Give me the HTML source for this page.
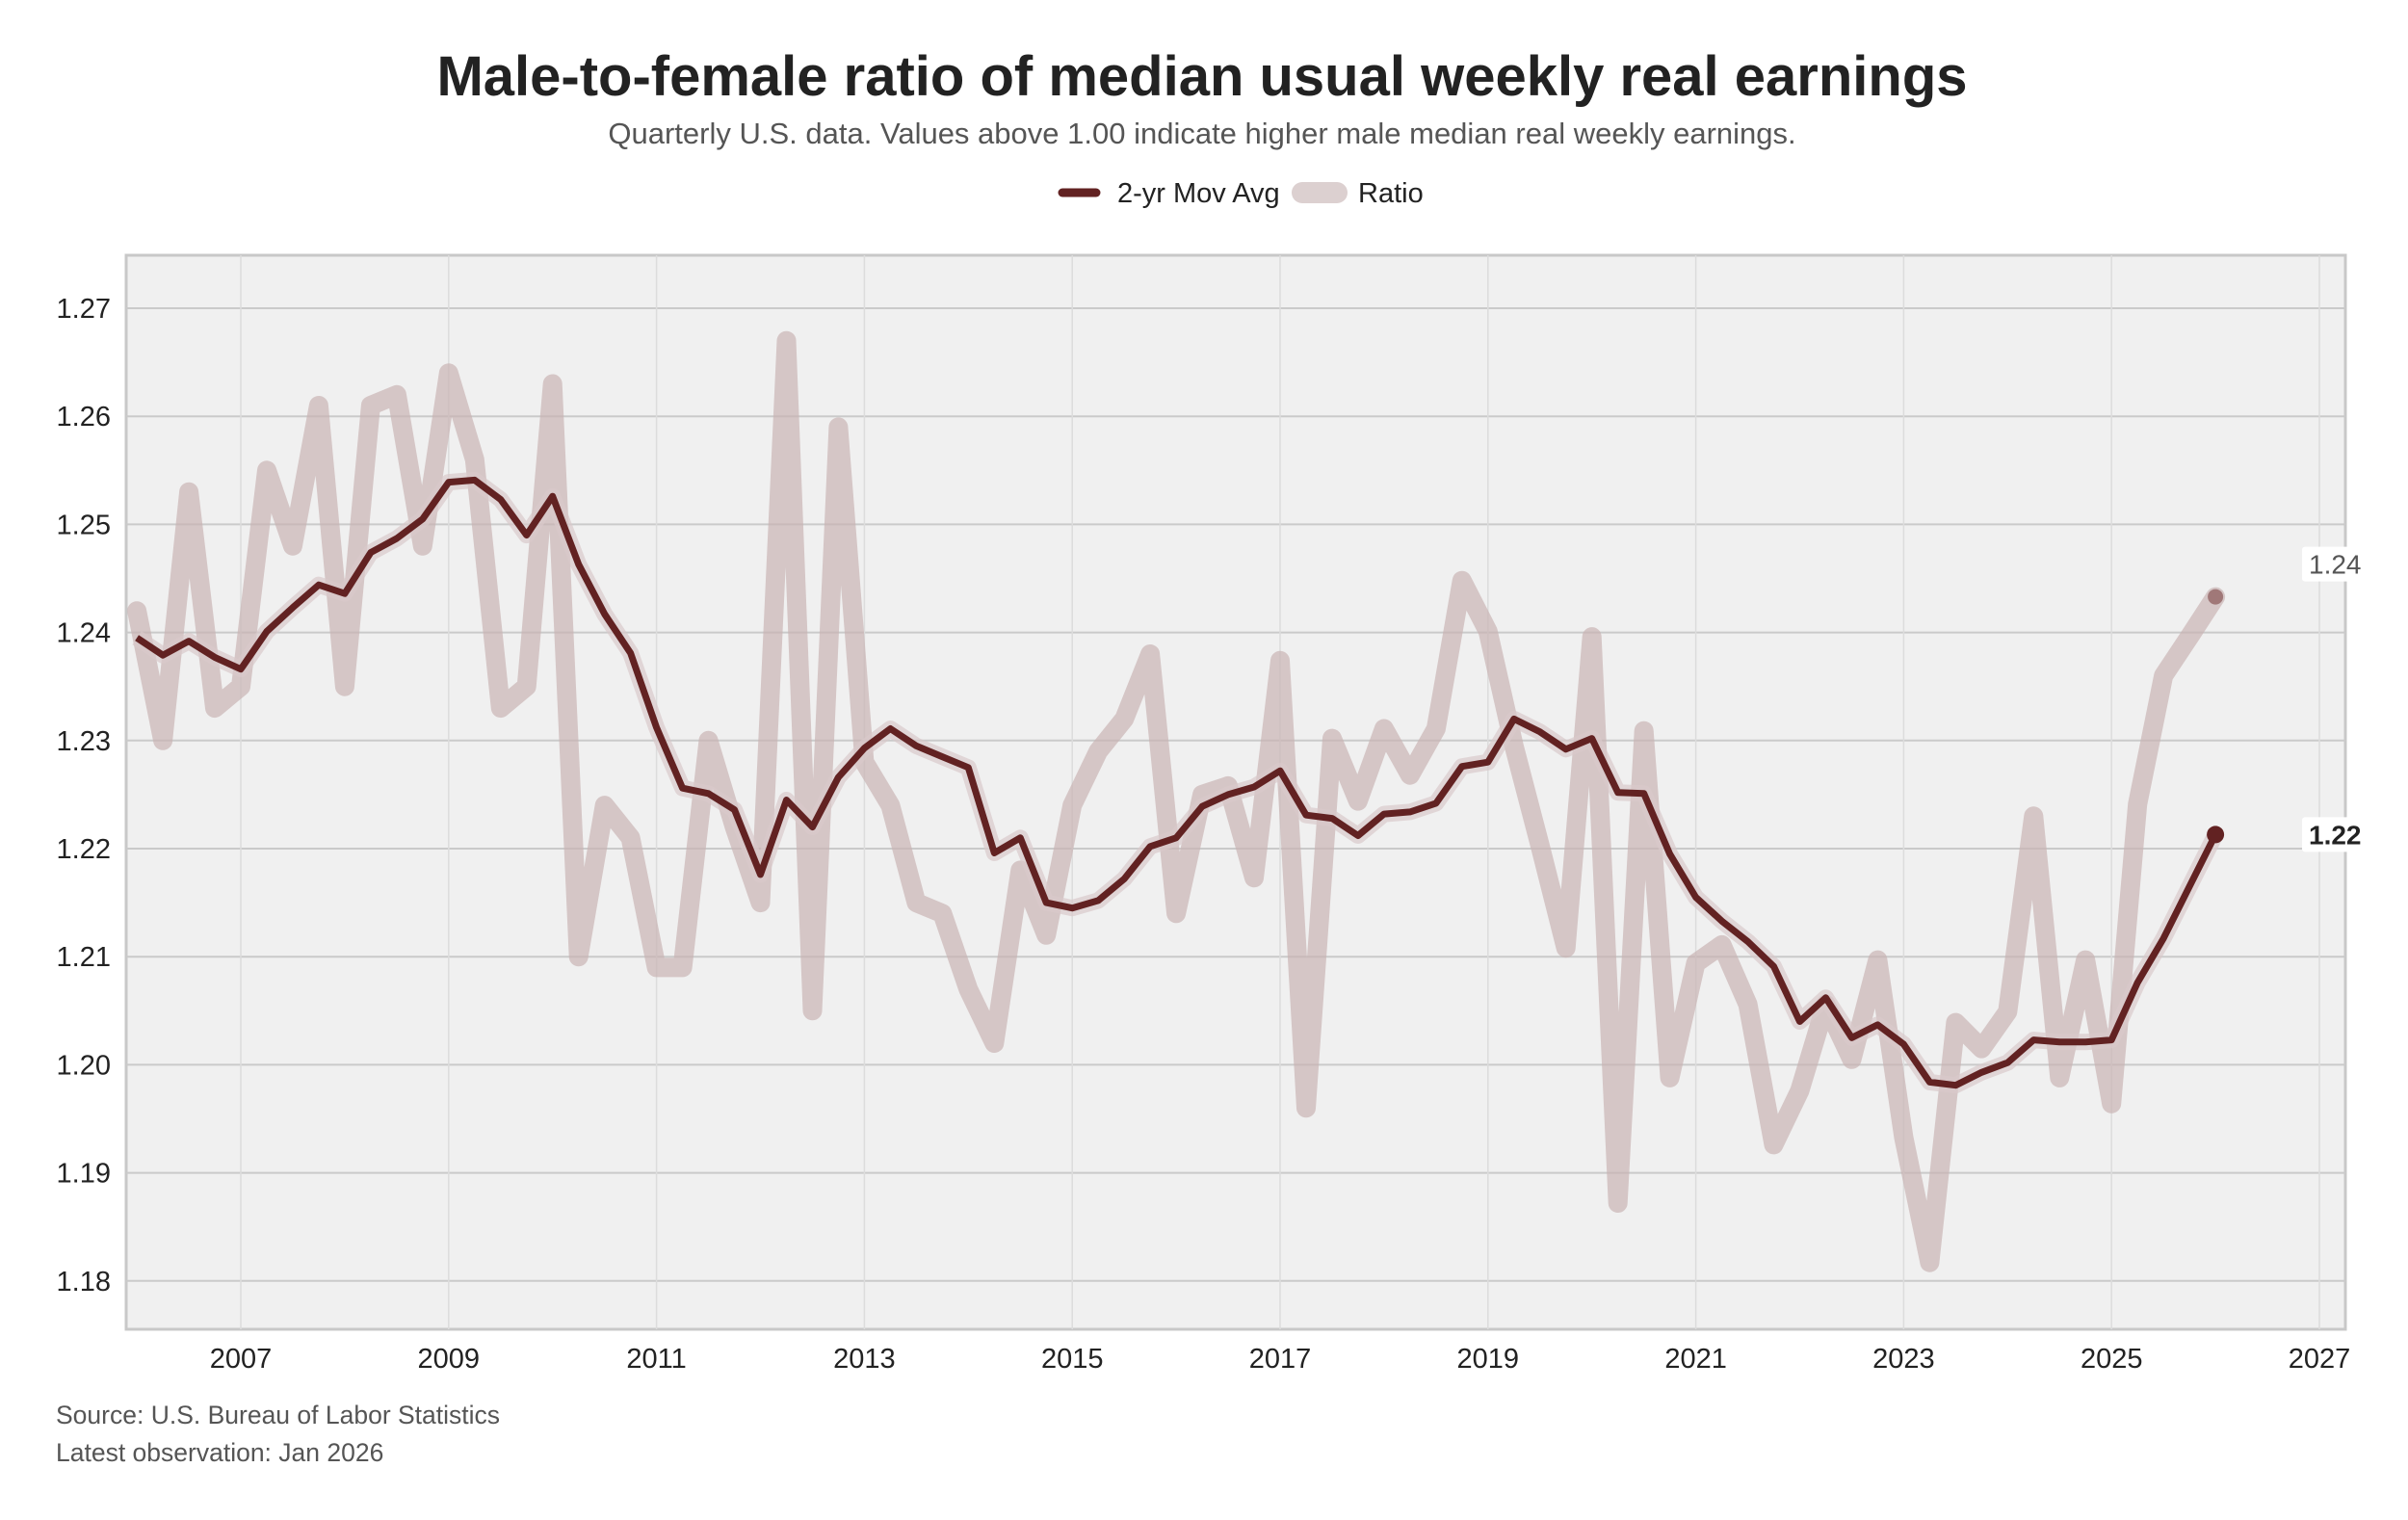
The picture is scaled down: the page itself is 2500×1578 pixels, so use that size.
<!DOCTYPE html>
<html><head><meta charset="utf-8"><style>
html,body{margin:0;padding:0;background:#fff;}
body{width:2500px;height:1573px;overflow:hidden;font-family:"Liberation Sans",Arial,sans-serif;}
</style></head><body>
<svg id="chart" width="2500" height="1573" xmlns="http://www.w3.org/2000/svg" font-family="Liberation Sans, Arial, sans-serif">
<text x="1248" y="99" text-anchor="middle" font-size="58" font-weight="bold" fill="#222">Male-to-female ratio of median usual weekly real earnings</text>
<text x="1248" y="149" text-anchor="middle" font-size="31" fill="#555">Quarterly U.S. data. Values above 1.00 indicate higher male median real weekly earnings.</text>
<g>
<line x1="1103" y1="200" x2="1138" y2="200" stroke="#622222" stroke-width="9" stroke-linecap="round"/>
<text x="1160" y="210" font-size="29" fill="#222">2-yr Mov Avg</text>
<line x1="1352" y1="200" x2="1388" y2="200" stroke="#dcd0d0" stroke-width="22" stroke-linecap="round"/>
<text x="1410" y="210" font-size="29" fill="#222">Ratio</text>
</g>
<rect x="131" y="265" width="2304" height="1115" fill="#f0f0f0" stroke="#c8c8c8" stroke-width="3"/>
<g id="grid"></g><g id="series"></g><g id="axes"></g>
<text x="58" y="1478" font-size="26.5" fill="#555">Source: U.S. Bureau of Labor Statistics</text>
<text x="58" y="1517" font-size="26.5" fill="#555">Latest observation: Jan 2026</text>
</svg>
<script>
const ratio=[1.242,1.230,1.253,1.233,1.235,1.255,1.248,1.261,1.235,1.261,1.262,1.248,1.264,1.256,1.233,1.235,1.263,1.210,1.224,1.221,1.209,1.209,1.230,1.222,1.215,1.267,1.205,1.259,1.228,1.224,1.215,1.214,1.207,1.202,1.218,1.212,1.224,1.229,1.232,1.238,1.214,1.225,1.2258,1.2173,1.2374,1.1960,1.2302,1.2244,1.2311,1.2268,1.2311,1.2448,1.2401,1.2295,1.2203,1.2108,1.2396,1.1872,1.2309,1.1988,1.2094,1.2111,1.2056,1.1926,1.1976,1.2056,1.2005,1.2097,1.1933,1.1817,1.2039,1.2015,1.2049,1.2230,1.1988,1.2097,1.1964,1.2241,1.2360,1.2396,1.2433];
const movAvg=[1.2395,1.2379,1.2392,1.2377,1.2366,1.2401,1.2423,1.2444,1.2436,1.2474,1.2487,1.2505,1.2539,1.2541,1.2523,1.2490,1.2526,1.2463,1.2417,1.2381,1.2312,1.2256,1.2251,1.2236,1.2176,1.2245,1.2220,1.2266,1.2293,1.2311,1.2295,1.2285,1.2275,1.2196,1.2210,1.2150,1.2145,1.2152,1.2172,1.2202,1.2210,1.2239,1.2250,1.2257,1.2272,1.2231,1.2228,1.2212,1.2232,1.2234,1.2242,1.2276,1.2280,1.2320,1.2308,1.2292,1.2302,1.2252,1.2251,1.2195,1.2155,1.2133,1.2114,1.2091,1.2040,1.2062,1.2025,1.2037,1.2019,1.1984,1.1981,1.1993,1.2002,1.2023,1.2021,1.2021,1.2023,1.2076,1.2117,1.2165,1.2213];
const startYear=2006;
const yTicks=[1.18,1.19,1.20,1.21,1.22,1.23,1.24,1.25,1.26,1.27];
const xTicks=[2007,2009,2011,2013,2015,2017,2019,2021,2023,2025,2027];
const NS='http://www.w3.org/2000/svg';
const X0=131,X1=2435,Y0=265,Y1=1380;
function xs(t){return 250+(t-2007)*107.9;}
function ys(v){return 320+(1.27-v)*100*112.2;}
function mk(tag,attrs,parent){const e=document.createElementNS(NS,tag);for(const k in attrs)e.setAttribute(k,attrs[k]);parent.appendChild(e);return e;}
const grid=document.getElementById('grid'),ser=document.getElementById('series'),ax=document.getElementById('axes');
yTicks.forEach(v=>{
 const l=mk('line',{x1:X0,x2:X1,y1:ys(v),y2:ys(v),stroke:'#cacaca','stroke-width':2},grid);
 
 
 const t=mk('text',{x:115,y:ys(v)+10,'text-anchor':'end','font-size':29,fill:'#222'},ax);
 t.textContent=v.toFixed(2);
 
 
});
xTicks.forEach(yr=>{
 const l=mk('line',{x1:xs(yr),x2:xs(yr),y1:Y0,y2:Y1,stroke:'#dcdcdc','stroke-width':1.5},grid);
 
 
 const t=mk('text',{x:xs(yr),y:1420,'text-anchor':'middle','font-size':29,fill:'#222'},ax);
 t.textContent=yr;
 
 
});
function pts(arr){return arr.map((v,i)=>xs(startYear+i/4).toFixed(1)+','+ys(v).toFixed(1)).join(' ');}
const r=mk('polyline',{points:pts(ratio),fill:'none',stroke:'#c9b3b4','stroke-opacity':0.7,'stroke-width':20,'stroke-linejoin':'round','stroke-linecap':'round'},ser);


const h=mk('polyline',{points:pts(movAvg),fill:'none',stroke:'#d8c9ca','stroke-opacity':0.7,'stroke-width':17,'stroke-linejoin':'round'},ser);


const m=mk('polyline',{points:pts(movAvg),fill:'none',stroke:'#622222','stroke-width':7,'stroke-linejoin':'round'},ser);


const n=ratio.length-1,lx=xs(startYear+n/4);
const d1=mk('circle',{cx:lx,cy:ys(ratio[n]),r:8,fill:'#a07878'},ser);


const d2=mk('circle',{cx:lx,cy:ys(movAvg[n]),r:9,fill:'#622222'},ser);


const b1=mk('rect',{x:2390,y:ys(ratio[n])-52,width:66,height:36,fill:'#fff',rx:3},ser);


const t1=mk('text',{x:2397,y:ys(ratio[n])-24,'font-size':28,fill:'#555'},ser);
t1.textContent=ratio[n].toFixed(2);


const b2=mk('rect',{x:2390,y:ys(movAvg[n])-18,width:66,height:36,fill:'#fff',rx:3},ser);


const t2=mk('text',{x:2397,y:ys(movAvg[n])+10,'font-size':28,'font-weight':'bold',fill:'#222'},ser);
t2.textContent=movAvg[n].toFixed(2);


</script>
</body></html>
